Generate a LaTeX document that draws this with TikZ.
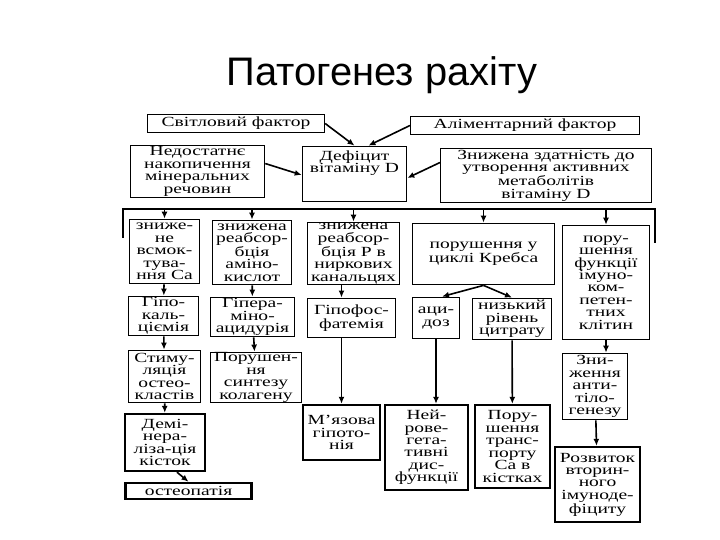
\documentclass[tikz,border=0pt]{standalone}
\usepackage{fontspec}
\setmainfont{Liberation Serif}[FakeStretch=1.4]
\newfontfamily\titlefont{Liberation Sans}
\usetikzlibrary{arrows.meta}

\begin{document}
\begin{tikzpicture}[x=1bp,y=-1bp,
    box/.style={draw,line width=1bp,align=center,inner sep=0pt,
      font=\fontsize{14}{12.5}\selectfont},
    heavy/.style={box,line width=2.6bp},
    sz/.style 2 args={minimum width=#1,minimum height=#2},
    arr/.style={line width=1.6bp,-{Latex[length=7bp,width=6bp]}}]
      \useasboundingbox (0,0) rectangle (720,540);
      \node[font=\titlefont\fontsize{40}{44}\selectfont,anchor=base] (title) at (382,86) {Патогенез рахіту};

      \node[box,sz={178}{19}] (light) at (236,123.5) {Світловий фактор};
      \node[box,sz={230}{19}] (alim) at (525,125.5) {Аліментарний фактор};
      \node[box,sz={135}{53}] (lack) at (197.5,171.5) {Недостатнє\\накопичення\\мінеральних\\речовин};
      \node[box,sz={105}{56}] (defic) at (354.5,174) {Дефіцит\\вітаміну D\\~\\~};
      \node[box,sz={212}{55}] (metab) at (546,175.5) {Знижена здатність до\\утворення активних\\метаболітів\\вітаміну D};
      \draw[arr] (light.east) -- (defic.north);
      \draw[arr] (alim.west) -- ([xshift=14]defic.north);
      \draw[arr] ([yshift=8]lack.east) -- ([yshift=-1]defic.west);
      \draw[arr] ([yshift=13]metab.west) -- ([yshift=-4]defic.east);

      \coordinate (busSW) at (123,238);
      \coordinate (busW) at (123,209);
      \coordinate (busE) at (655,209);
      \coordinate (busSE) at (655,243);
      \draw[line width=1.3bp] (busSW) -- (busW) -- (busE) -- (busSE);

      \node[box,sz={71}{65}] (absorb) at (164.5,251.5) {зниже-\\не\\всмок-\\тува-\\ння Ca};
      \node[box,sz={80}{65}] (amino) at (252,252.5) {знижена\\реабсор-\\бція\\аміно-\\кислот};
      \node[box,sz={93}{63}] (phos) at (353.5,253.5) {знижена\\реабсор-\\бція P в\\ниркових\\канальцях};
      \node[box,sz={143}{62}] (krebs) at (483.5,254) {порушення у\\циклі Кребса};
      \node[box,sz={88}{115}] (immune) at (606,282.5) {пору-\\шення\\функції\\імуно-\\ком-\\петен-\\тних\\клітин};
      \foreach \n in {absorb,amino,phos,krebs,immune}
        \draw[arr] (\n.north |- busW) -- (\n.north);

      \node[box,sz={71}{40}] (hypoca) at (163.5,316) {Гіпо-\\каль-\\ціємія};
      \node[box,sz={85}{40}] (hyperam) at (252.5,317) {Гіпера-\\міно-\\ацидурія};
      \node[box,sz={89}{40}] (hypop) at (351.5,318) {Гіпофос-\\фатемія};
      \node[box,sz={48}{42}] (acid) at (436,318) {аци-\\доз};
      \node[box,sz={80}{42}] (citr) at (512,319) {низький\\рівень\\цитрату};
      \draw[arr] (absorb) -- (hypoca);
      \draw[arr] (amino) -- (hyperam);
      \draw[arr] (krebs.south) -- ([xshift=6]acid.north);
      \draw[arr] (krebs.south) -- (citr.north);

      \node[box,sz={73}{53}] (osteocl) at (164.5,376.5) {Стиму-\\ляція\\остео-\\кластів};
      \node[box,sz={92}{51}] (collag) at (256,377.5) {Порушен-\\ня\\синтезу\\колагену};
      \node[box,sz={66}{67}] (antib) at (595,386.5) {Зни-\\ження\\анти-\\тіло-\\генезу};
      \draw[arr] (hypoca) -- (osteocl);
      \draw[arr] (hyperam) -- (collag);
      \draw[arr] (immune.south) -- (immune.south |- antib.north);

      \node[heavy,sz={80}{57}] (demin) at (165,442.5) {Демі-\\нера-\\ліза-ція\\кісток};
      \node[heavy,sz={127}{16}] (osteop) at (188.5,491) {остеопатія};
      \node[heavy,sz={77}{55}] (muscle) at (341.5,432.5) {М’язова\\гіпото-\\нія};
      \node[heavy,sz={83}{85}] (neuro) at (426.5,447.5) {Ней-\\рове-\\гета-\\тивні\\дис-\\функції};
      \node[heavy,sz={75}{83}] (transp) at (512.5,446.5) {Пору-\\шення\\транс-\\порту\\Ca в\\кістках};
      \node[heavy,sz={85}{75}] (immdef) at (597.5,484.5) {Розвиток\\вторин-\\ного\\імуноде-\\фіциту};
      \draw[arr] (muscle.north |- phos.south) -- (muscle.north |- hypop.north);
      \draw[arr] (osteocl) -- (demin);
      \draw[arr] ([xshift=12]demin.south) -- (osteop.north);
      \draw[arr] (muscle.north |- hypop.south) -- (muscle.north);
      \draw[arr] (acid.south) -- (acid.south |- neuro.north);
      \draw[arr] (citr) -- (transp);
      \draw[arr] (antib) -- (immdef);
    \end{tikzpicture}
\end{document}
